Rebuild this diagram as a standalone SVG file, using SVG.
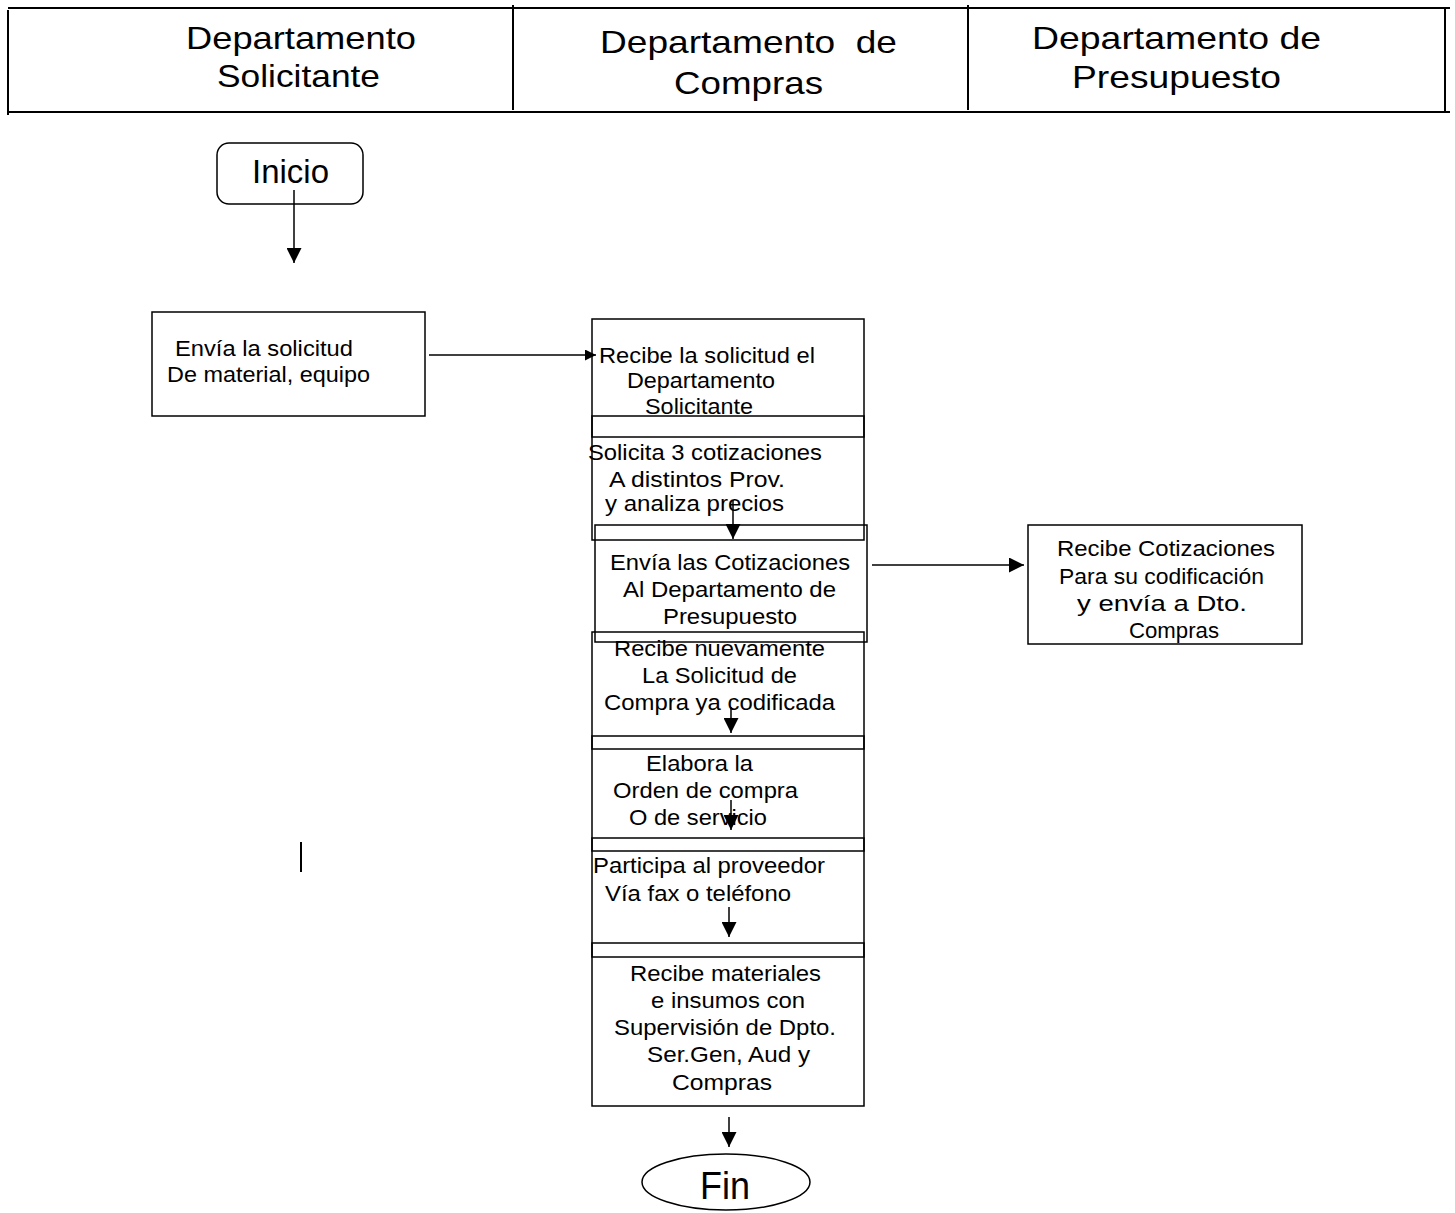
<svg xmlns="http://www.w3.org/2000/svg" width="1455" height="1213" viewBox="0 0 1455 1213">
<style>
text{font-family:"Liberation Sans",Arial,sans-serif;fill:#000}
.t{font-size:22px}
.h{font-size:32px}
.box{fill:none;stroke:#000;stroke-width:1.5}
.ln{stroke:#000;stroke-width:1.5;fill:none}
.hl{stroke:#000;stroke-width:2;fill:none}
</style>
<defs>
<marker id="ah" viewBox="0 0 10 10" refX="10" refY="5" markerWidth="15" markerHeight="15" markerUnits="userSpaceOnUse" orient="auto"><path d="M0,0 L10,5 L0,10 z" fill="#000"/></marker>
<marker id="ahs" viewBox="0 0 10 10" refX="10" refY="5" markerWidth="14" markerHeight="11" markerUnits="userSpaceOnUse" orient="auto"><path d="M0,0 L10,5 L0,10 z" fill="#000"/></marker>
<marker id="ahb" viewBox="0 0 10 10" refX="10" refY="5" markerWidth="16" markerHeight="15" markerUnits="userSpaceOnUse" orient="auto"><path d="M0,0 L10,5 L0,10 z" fill="#000"/></marker>
</defs>
<rect width="1455" height="1213" fill="#fff"/>
<g id="header">
<line class="hl" x1="8" y1="8" x2="1450" y2="8"/>
<line class="hl" x1="8" y1="112" x2="1450" y2="112" stroke-width="2.5"/>
<line class="hl" x1="8" y1="10" x2="8" y2="115" stroke-width="1.5"/>
<line class="hl" x1="513" y1="5" x2="513" y2="110" stroke-width="1.5"/>
<line class="hl" x1="968" y1="5" x2="968" y2="110" stroke-width="1.5"/>
<line class="hl" x1="1445" y1="9" x2="1445" y2="113"/>
<text class="h" x="186" y="49" textLength="230" lengthAdjust="spacingAndGlyphs">Departamento</text>
<text class="h" x="217" y="87" textLength="163" lengthAdjust="spacingAndGlyphs">Solicitante</text>
<text class="h" x="600" y="53" textLength="297" lengthAdjust="spacingAndGlyphs">Departamento&#160; de</text>
<text class="h" x="674" y="94" textLength="149" lengthAdjust="spacingAndGlyphs">Compras</text>
<text class="h" x="1032" y="49" textLength="289" lengthAdjust="spacingAndGlyphs">Departamento de</text>
<text class="h" x="1072" y="88" textLength="209" lengthAdjust="spacingAndGlyphs">Presupuesto</text>
</g>
<g id="inicio">
<rect x="217" y="143" width="146" height="61" rx="12" class="box"/>
<text x="252" y="183" font-size="34" textLength="77" lengthAdjust="spacingAndGlyphs">Inicio</text>
</g>
<g id="envia_solicitud">
<rect x="152" y="312" width="273" height="104" class="box"/>
<text class="t" x="175" y="356" textLength="178" lengthAdjust="spacingAndGlyphs">Envía la solicitud</text>
<text class="t" x="167" y="382" textLength="203" lengthAdjust="spacingAndGlyphs">De material, equipo</text>
</g>
<g id="recibe_solicitud">
<rect x="592" y="319" width="272" height="118" class="box"/>
<text class="t" x="599" y="363" textLength="216" lengthAdjust="spacingAndGlyphs">Recibe la solicitud el</text>
<text class="t" x="627" y="388" textLength="148" lengthAdjust="spacingAndGlyphs">Departamento</text>
<text class="t" x="645" y="414" textLength="108" lengthAdjust="spacingAndGlyphs">Solicitante</text>
</g>
<g id="solicita_cotizaciones">
<rect x="592" y="416" width="272" height="124" class="box"/>
<text class="t" x="588" y="460" textLength="234" lengthAdjust="spacingAndGlyphs">Solicita 3 cotizaciones</text>
<text class="t" x="609" y="487" textLength="176" lengthAdjust="spacingAndGlyphs">A distintos Prov.</text>
<text class="t" x="605" y="511" textLength="179" lengthAdjust="spacingAndGlyphs">y analiza precios</text>
</g>
<g id="envia_cotizaciones">
<rect x="595" y="525" width="272" height="117" class="box"/>
<text class="t" x="610" y="570" textLength="240" lengthAdjust="spacingAndGlyphs">Envía las Cotizaciones</text>
<text class="t" x="623" y="597" textLength="213" lengthAdjust="spacingAndGlyphs">Al Departamento de</text>
<text class="t" x="663" y="624" textLength="134" lengthAdjust="spacingAndGlyphs">Presupuesto</text>
</g>
<g id="recibe_nuevamente">
<rect x="592" y="632" width="272" height="117" class="box"/>
<text class="t" x="614" y="656" textLength="211" lengthAdjust="spacingAndGlyphs">Recibe nuevamente</text>
<text class="t" x="642" y="683" textLength="155" lengthAdjust="spacingAndGlyphs">La Solicitud de</text>
<text class="t" x="604" y="710" textLength="231" lengthAdjust="spacingAndGlyphs">Compra ya codificada</text>
</g>
<g id="elabora_orden">
<rect x="592" y="736" width="272" height="115" class="box"/>
<text class="t" x="646" y="771" textLength="107" lengthAdjust="spacingAndGlyphs">Elabora la</text>
<text class="t" x="613" y="798" textLength="185" lengthAdjust="spacingAndGlyphs">Orden de compra</text>
<text class="t" x="629" y="825" textLength="138" lengthAdjust="spacingAndGlyphs">O de servicio</text>
</g>
<g id="participa_proveedor">
<rect x="592" y="838" width="272" height="119" class="box"/>
<text class="t" x="593" y="873" textLength="232" lengthAdjust="spacingAndGlyphs">Participa al proveedor</text>
<text class="t" x="605" y="901" textLength="186" lengthAdjust="spacingAndGlyphs">Vía fax o teléfono</text>
</g>
<g id="recibe_materiales">
<rect x="592" y="943" width="272" height="163" class="box"/>
<text class="t" x="630" y="981" textLength="191" lengthAdjust="spacingAndGlyphs">Recibe materiales</text>
<text class="t" x="651" y="1008" textLength="154" lengthAdjust="spacingAndGlyphs">e insumos con</text>
<text class="t" x="614" y="1035" textLength="222" lengthAdjust="spacingAndGlyphs">Supervisión de Dpto.</text>
<text class="t" x="647" y="1062" textLength="163" lengthAdjust="spacingAndGlyphs">Ser.Gen, Aud y</text>
<text class="t" x="672" y="1090" textLength="100" lengthAdjust="spacingAndGlyphs">Compras</text>
</g>
<g id="recibe_cotizaciones">
<rect x="1028" y="525" width="274" height="119" class="box"/>
<text class="t" x="1057" y="556" textLength="218" lengthAdjust="spacingAndGlyphs">Recibe Cotizaciones</text>
<text class="t" x="1059" y="584" textLength="205" lengthAdjust="spacingAndGlyphs">Para su codificación</text>
<text class="t" x="1077" y="611" textLength="170" lengthAdjust="spacingAndGlyphs">y envía a Dto.</text>
<text class="t" x="1129" y="638" textLength="90" lengthAdjust="spacingAndGlyphs">Compras</text>
</g>
<g id="fin">
<ellipse cx="726" cy="1182" rx="84" ry="28" class="box"/>
<text x="700" y="1199" font-size="39" textLength="50" lengthAdjust="spacingAndGlyphs">Fin</text>
</g>
<line x1="301" y1="842" x2="301" y2="872" stroke="#000" stroke-width="2"/>
<g id="connectors">
<line class="ln" x1="294" y1="190" x2="294" y2="263" marker-end="url(#ah)"/>
<line class="ln" x1="429" y1="355" x2="596" y2="355" marker-end="url(#ahs)"/>
<line class="ln" x1="733" y1="500" x2="733" y2="539" marker-end="url(#ah)"/>
<line class="ln" x1="872" y1="565" x2="1024" y2="565" marker-end="url(#ahb)"/>
<line class="ln" x1="731" y1="707" x2="731" y2="733" marker-end="url(#ah)"/>
<line class="ln" x1="731" y1="800" x2="731" y2="830" marker-end="url(#ah)"/>
<line class="ln" x1="729" y1="907" x2="729" y2="937" marker-end="url(#ah)"/>
<line class="ln" x1="729" y1="1117" x2="729" y2="1147" marker-end="url(#ah)"/>
</g>
</svg>
